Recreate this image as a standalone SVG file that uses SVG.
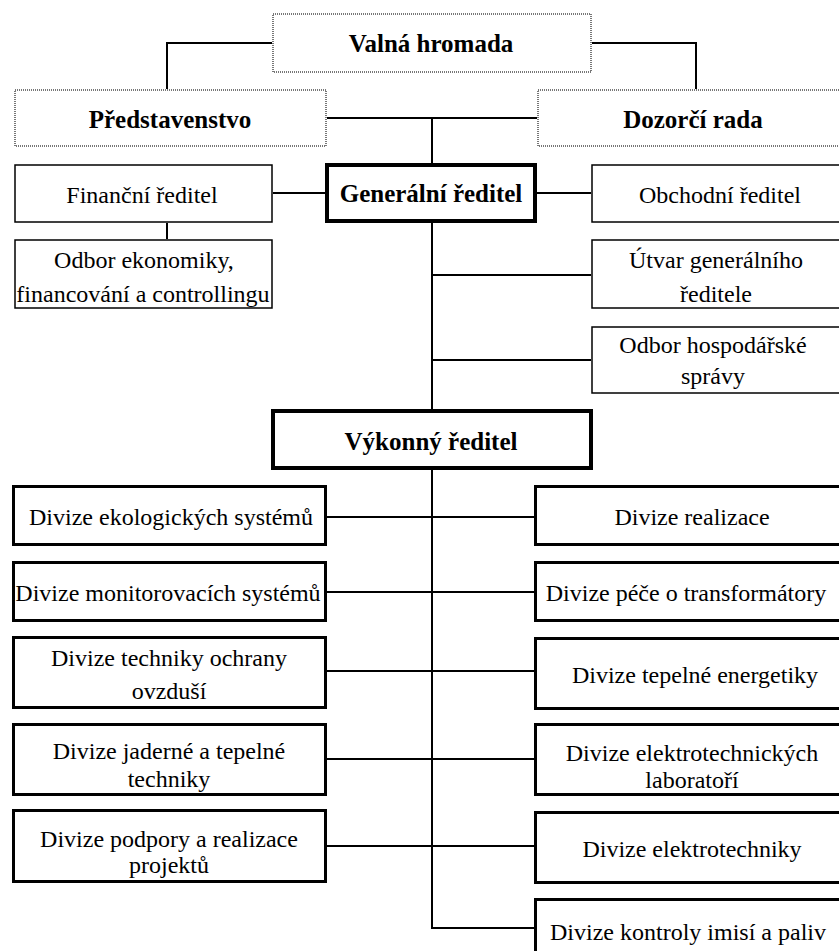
<svg xmlns="http://www.w3.org/2000/svg" width="839" height="951" viewBox="0 0 839 951">
<style>
text{font-family:"Liberation Serif","Times New Roman",serif;font-size:24px;fill:#000;text-anchor:middle}
.b{font-weight:bold;font-size:25px}
.dot{fill:#fff;stroke:#777;stroke-width:2;stroke-dasharray:1 1}
.thin{fill:#fff;stroke:#000;stroke-width:1.5}
.thick{fill:#fff;stroke:#000;stroke-width:4}
.mid{fill:#fff;stroke:#000;stroke-width:3}
#connectors path{fill:none;stroke:#000;stroke-width:2}
</style>
<rect width="839" height="951" fill="#fff"/>
<g id="connectors">
<path d="M272,43H167V89"/>
<path d="M592,43H696V89"/>
<path d="M327,118H537"/>
<path d="M432,118V164"/>
<path d="M273,193H326"/>
<path d="M536,193H591"/>
<path d="M167,223V239"/>
<path d="M432,222V410"/>
<path d="M432,275H591"/>
<path d="M432,360H591"/>
<path d="M432,469V928H534"/>
<path d="M327,517H534"/>
<path d="M327,592H534"/>
<path d="M327,671H534"/>
<path d="M327,759H534"/>
<path d="M327,846H534"/>
</g>
<g id="valna"><rect class="dot" x="273" y="14" width="318" height="58"/><text class="b" x="431" y="52">Valná hromada</text></g>
<g id="predstavenstvo"><rect class="dot" x="15" y="90" width="311" height="56"/><text class="b" x="170" y="128">Představenstvo</text></g>
<g id="dozorci"><rect class="dot" x="538" y="90" width="312" height="56"/><text class="b" x="693" y="128">Dozorčí rada</text></g>
<g id="financni"><rect class="thin" x="15" y="165" width="257" height="57"/><text x="142" y="203">Finanční ředitel</text></g>
<g id="generalni"><rect class="thick" x="327" y="165" width="208" height="56"/><text class="b" x="431" y="202">Generální ředitel</text></g>
<g id="obchodni"><rect class="thin" x="592" y="165" width="258" height="57"/><text x="720" y="203">Obchodní ředitel</text></g>
<g id="odbor-ekonomiky"><rect class="thin" x="15" y="240" width="257" height="68"/><text x="144" y="268">Odbor ekonomiky,</text><text x="143" y="302">financování a controllingu</text></g>
<g id="utvar"><rect class="thin" x="592" y="240" width="258" height="68"/><text x="716" y="268">Útvar generálního</text><text x="716" y="302">ředitele</text></g>
<g id="odbor-hospodarske"><rect class="thin" x="592" y="327" width="258" height="66"/><text x="713" y="353">Odbor hospodářské</text><text x="713" y="384">správy</text></g>
<g id="vykonny"><rect class="thick" x="273" y="411" width="318" height="57"/><text class="b" x="431" y="450">Výkonný ředitel</text></g>
<g id="div-ekologickych"><rect class="mid" x="13.5" y="486.5" width="312" height="58"/><text x="171" y="525">Divize ekologických systémů</text></g>
<g id="div-monitorovacich"><rect class="mid" x="13.5" y="562.5" width="312" height="58"/><text x="168" y="601">Divize monitorovacích systémů</text></g>
<g id="div-ochrany"><rect class="mid" x="13.5" y="637.5" width="312" height="70"/><text x="169" y="666">Divize techniky ochrany</text><text x="169" y="699">ovzduší</text></g>
<g id="div-jaderne"><rect class="mid" x="13.5" y="724.5" width="312" height="70"/><text x="169" y="759">Divize jaderné a tepelné</text><text x="169" y="787">techniky</text></g>
<g id="div-podpory"><rect class="mid" x="13.5" y="810.5" width="312" height="71"/><text x="169" y="847">Divize podpory a realizace</text><text x="169" y="873">projektů</text></g>
<g id="div-realizace"><rect class="mid" x="535.5" y="486.5" width="320" height="58"/><text x="692" y="525">Divize realizace</text></g>
<g id="div-pece"><rect class="mid" x="535.5" y="562.5" width="320" height="58"/><text x="686" y="601">Divize péče o transformátory</text></g>
<g id="div-tepelne"><rect class="mid" x="535.5" y="638.5" width="320" height="70"/><text x="695" y="683">Divize tepelné energetiky</text></g>
<g id="div-laboratori"><rect class="mid" x="535.5" y="724.5" width="320" height="70"/><text x="692" y="761">Divize elektrotechnických</text><text x="692" y="788">laboratoří</text></g>
<g id="div-elektrotechniky"><rect class="mid" x="535.5" y="812.5" width="320" height="70"/><text x="692" y="857">Divize elektrotechniky</text></g>
<g id="div-kontroly"><rect class="mid" x="535.5" y="899.5" width="320" height="72"/><text x="688" y="940">Divize kontroly imisí a paliv</text></g>
</svg>
